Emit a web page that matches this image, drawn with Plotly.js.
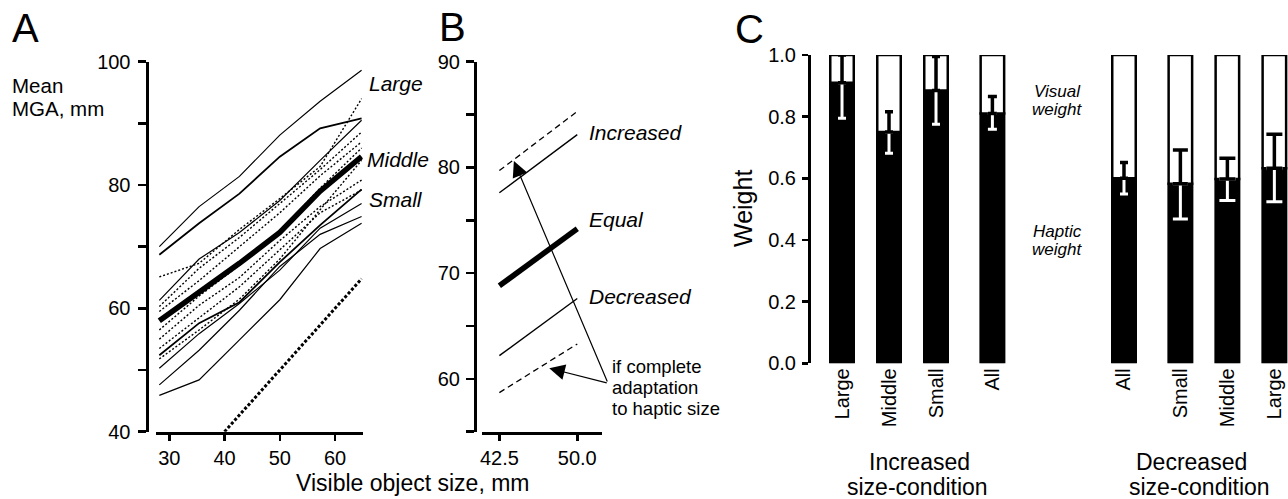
<!DOCTYPE html>
<html>
<head>
<meta charset="utf-8">
<script src="https://cdn.plot.ly/plotly-3.0.1.min.js"></script>
<style>html,body{margin:0;padding:0;background:#fff;}#chart{width:1288px;height:499px;}</style>
</head>
<body>
<div id="chart"></div>
<script>
// ---------- Panel A data: mean MGA (mm) vs visible object size (mm) ----------
const sizeA = [28.2, 35.4, 42.7, 50.0, 57.3, 64.8];
const solidA1 = [70.0, 76.5, 81.4, 88.1, 93.6, 98.6];
const solidA2 = [68.7, 73.8, 78.6, 84.6, 89.2, 90.8];
const solidA3 = [61.3, 68.0, 72.3, 77.5, 84.0, 90.5];
const solidA4 = [52.4, 57.6, 61.0, 67.5, 73.5, 79.3];
const solidA5 = [50.3, 55.9, 60.8, 66.2, 73.0, 77.0];
const solidA6 = [47.6, 53.2, 59.7, 66.8, 72.0, 74.9];
const solidA7 = [45.9, 48.4, 54.9, 61.4, 69.7, 73.8];
const dottedA1 = [65.1, 67.3, 72.8, 77.8, 83.0, 94.0];
const dottedA2 = [60.3, 66.5, 71.5, 77.0, 82.5, 88.6];
const dottedA3 = [59.5, 64.5, 70.0, 75.5, 81.5, 87.0];
const dottedA4 = [56.5, 62.0, 67.0, 72.5, 79.5, 86.0];
const dottedA5 = [55.0, 60.5, 65.0, 71.0, 76.5, 80.8];
const dottedA6 = [53.5, 58.5, 63.5, 69.5, 75.5, 79.2];
const dottedA7 = [51.8, 56.5, 61.5, 68.0, 76.0, 84.0];
const meanMiddle = [58.0, 62.5, 67.3, 72.3, 79.0, 84.6];
const identityA = [40, 64.8];
const tickA_x = [30, 40, 50, 60];
const tickA_y = [40, 60, 80, 100];
const minorA_y = [50, 70, 90];
const labelsA = ['Large', 'Middle', 'Small'];

// ---------- Panel B data ----------
const sizeB = [42.5, 50.0];
const adaptUp = [79.7, 85.3];
const increasedB = [77.6, 83.1];
const equalB = [68.8, 74.2];
const decreasedB = [62.2, 67.6];
const adaptDown = [58.7, 63.3];
const tickB_x = [42.5, 50.0];
const tickB_y = [60, 70, 80, 90];
const minorB_y = [55, 65, 75, 85];
const labelsB = ['Increased', 'Equal', 'Decreased'];
const noteB = ['if complete', 'adaptation', 'to haptic size'];

// ---------- Panel C data ----------
const catsC = ['Large', 'Middle', 'Small', 'All', 'All', 'Small', 'Middle', 'Large'];
const hapticW = [0.91, 0.75, 0.885, 0.81, 0.60, 0.582, 0.598, 0.633];
const errPlus = [0.09, 0.066, 0.11, 0.055, 0.051, 0.11, 0.067, 0.11];
const errMinus = [0.115, 0.069, 0.11, 0.051, 0.051, 0.114, 0.07, 0.109];
const tickC_y = [0, 0.2, 0.4, 0.6, 0.8, 1.0];
const groupsC = [['Increased', 'size-condition'], ['Decreased', 'size-condition']];

// ---------- layout helpers (positions / styles) ----------
const W = 1288, H = 499;
const fx = p => p / W;
const fy = p => 1 - p / H;
const slotX = [0, 1, 2, 3.2, 6, 7.2, 8.2, 9.2];
const capHalf = [4, 4, 4, 4.5, 4, 7.5, 8, 8];
const FONT = 'Liberation Sans, Arial, Helvetica, sans-serif';

const traces = [];
function line(x, y, xa, ya, w, dash) {
  traces.push({type: 'scatter', mode: 'lines', x: x, y: y, xaxis: xa, yaxis: ya,
    line: {color: '#000', width: w, dash: dash || 'solid'}, hoverinfo: 'skip', cliponaxis: false});
}
// Panel A
[dottedA1, dottedA2, dottedA3, dottedA4, dottedA5, dottedA6, dottedA7].forEach(d => line(sizeA, d, 'x', 'y', 1.4, '2px,2px'));
[solidA1, solidA3, solidA5, solidA6, solidA7].forEach(d => line(sizeA, d, 'x', 'y', 1.2));
[solidA2, solidA4].forEach(d => line(sizeA, d, 'x', 'y', 1.8));
line(identityA, identityA, 'x', 'y', 3, '3px,2px');
line(sizeA, meanMiddle, 'x', 'y', 5.5);
// Panel B
line(sizeB, adaptUp, 'x2', 'y2', 1.3, '6px,4px');
line(sizeB, increasedB, 'x2', 'y2', 1.4);
line(sizeB, equalB, 'x2', 'y2', 5.5);
line(sizeB, decreasedB, 'x2', 'y2', 1.4);
line(sizeB, adaptDown, 'x2', 'y2', 1.3, '6px,4px');
// Panel C bars
traces.push({type: 'bar', x: slotX, y: hapticW, xaxis: 'x3', yaxis: 'y3', width: 0.5,
  marker: {color: '#000', line: {color: '#000', width: 2.5}}, hoverinfo: 'skip', cliponaxis: false});
traces.push({type: 'bar', x: slotX, y: hapticW.map(v => 1 - v), base: hapticW, xaxis: 'x3', yaxis: 'y3', width: 0.5,
  marker: {color: '#fff', line: {color: '#000', width: 2.5}}, hoverinfo: 'skip', cliponaxis: false});
// error bars: white part (down, inside black) then black part (up, inside white)
slotX.forEach((sx, i) => {
  traces.push({type: 'scatter', mode: 'markers', x: [sx], y: [hapticW[i]], xaxis: 'x3', yaxis: 'y3',
    marker: {size: 1, opacity: 0}, hoverinfo: 'skip', cliponaxis: false,
    error_y: {type: 'data', symmetric: false, array: [0], arrayminus: [errMinus[i]], color: '#fff', thickness: 3, width: capHalf[i]}});
});
slotX.forEach((sx, i) => {
  traces.push({type: 'scatter', mode: 'markers', x: [sx], y: [hapticW[i]], xaxis: 'x3', yaxis: 'y3',
    marker: {size: 1, opacity: 0}, hoverinfo: 'skip', cliponaxis: false,
    error_y: {type: 'data', symmetric: false, array: [errPlus[i]], arrayminus: [0], color: '#000', thickness: 3.5, width: capHalf[i]}});
});

const axCommon = {showgrid: false, zeroline: false, showline: true, linecolor: '#000', linewidth: 3,
  ticks: 'outside', tickcolor: '#000', tickwidth: 2.5, tickfont: {family: FONT, size: 20, color: '#000'}, fixedrange: true};

const ann = [];
function txt(t, x, y, size, opts) {
  ann.push(Object.assign({text: t, xref: 'paper', yref: 'paper', x: fx(x), y: fy(y), xanchor: 'left', yanchor: 'middle',
    showarrow: false, font: {family: FONT, size: size, color: '#000'}}, opts || {}));
}
txt('A', 10, 27.5, 40);
txt('B', 436.5, 26.7, 40);
txt('C', 733, 29, 40);
txt('Mean', 10, 85, 20.5);
txt('MGA, mm', 10, 108.5, 20.5);
txt('<i>' + labelsA[0] + '</i>', 366.5, 84, 21);
txt('<i>' + labelsA[1] + '</i>', 365, 159.5, 21);
txt('<i>' + labelsA[2] + '</i>', 366.5, 199.5, 21);
txt('Visible object size, mm', 413, 483, 23, {xanchor: 'center'});
txt('<i>' + labelsB[0] + '</i>', 586.5, 133, 21);
txt('<i>' + labelsB[1] + '</i>', 586.5, 219, 21);
txt('<i>' + labelsB[2] + '</i>', 586.5, 296.5, 21);
txt(noteB[0], 610, 366, 18.5);
txt(noteB[1], 610, 387, 18.5);
txt(noteB[2], 610, 408, 18.5);
txt('<i>Visual</i>', 1057, 92, 17, {xanchor: 'center'});
txt('<i>weight</i>', 1057, 109, 17, {xanchor: 'center'});
txt('<i>Haptic</i>', 1057, 231, 17, {xanchor: 'center'});
txt('<i>weight</i>', 1057, 250, 17, {xanchor: 'center'});
txt('Weight', 743, 209, 25, {xanchor: 'center', textangle: -90});
txt(groupsC[0][0], 919, 461.5, 23, {xanchor: 'center'});
txt(groupsC[0][1], 917, 487, 23, {xanchor: 'center'});
txt(groupsC[1][0], 1191, 461.5, 23, {xanchor: 'center'});
txt(groupsC[1][1], 1199, 487, 23, {xanchor: 'center'});
// arrows in B (heads in data coords, tails offset in px)
ann.push({text: '', xref: 'x2', yref: 'y2', x: 43.9, y: 80.6, ax: 94, ay: 222, axref: 'pixel', ayref: 'pixel',
  showarrow: true, arrowhead: 2, arrowsize: 2.6, arrowwidth: 1.2, arrowcolor: '#000', standoff: 0});
ann.push({text: '', xref: 'x2', yref: 'y2', x: 47.3, y: 61.0, ax: 59, ay: 15, axref: 'pixel', ayref: 'pixel',
  showarrow: true, arrowhead: 2, arrowsize: 2.6, arrowwidth: 1.2, arrowcolor: '#000', standoff: 0});

const layout = {
  width: W, height: H, margin: {l: 0, r: 0, t: 0, b: 0}, showlegend: false,
  paper_bgcolor: '#fff', plot_bgcolor: 'rgba(0,0,0,0)', barmode: 'overlay',
  font: {family: FONT, color: '#000', size: 20},
  xaxis: Object.assign({}, axCommon, {domain: [fx(156), fx(362.7)], range: [27.6, 65.0], anchor: 'y',
    tickvals: tickA_x, ticklen: 6, tickfont: {family: FONT, size: 20, color: '#000'}}),
  yaxis: Object.assign({}, axCommon, {domain: [fy(431.7), fy(61.7)], range: [40, 100], anchor: 'free', position: fx(146.5),
    tickvals: tickA_y, ticklen: 8, ticklabelstandoff: 3,
    minor: {tickvals: minorA_y, ticks: 'outside', ticklen: 8, tickwidth: 2.5, tickcolor: '#000'}}),
  xaxis2: Object.assign({}, axCommon, {domain: [fx(481.7), fx(601.7)], range: [40.8, 52.35], anchor: 'y2',
    tickvals: tickB_x, tickformat: '.1f', ticklen: 6, tickfont: {family: FONT, size: 20, color: '#000'}}),
  yaxis2: Object.assign({}, axCommon, {domain: [fy(431.7), fy(61.7)], range: [55, 90], anchor: 'free', position: fx(475),
    tickvals: tickB_y, ticklen: 8, ticklabelstandoff: 2,
    minor: {tickvals: minorB_y, ticks: 'outside', ticklen: 8, tickwidth: 2.5, tickcolor: '#000'}}),
  xaxis3: {domain: [fx(811), 1], range: [-0.66, 9.49], anchor: 'y3', showline: false, showgrid: false, zeroline: false,
    ticks: '', tickvals: slotX, ticktext: catsC, tickangle: -90, tickfont: {family: FONT, size: 20, color: '#000'}, fixedrange: true},
  yaxis3: Object.assign({}, axCommon, {domain: [fy(363.3), fy(55)], range: [0, 1], anchor: 'x3',
    tickvals: tickC_y, tickformat: '.1f', ticklen: 6, ticklabelstandoff: 2}),
  annotations: ann
};

Plotly.newPlot('chart', traces, layout, {staticPlot: true, displayModeBar: false});
</script>
</body>
</html>
